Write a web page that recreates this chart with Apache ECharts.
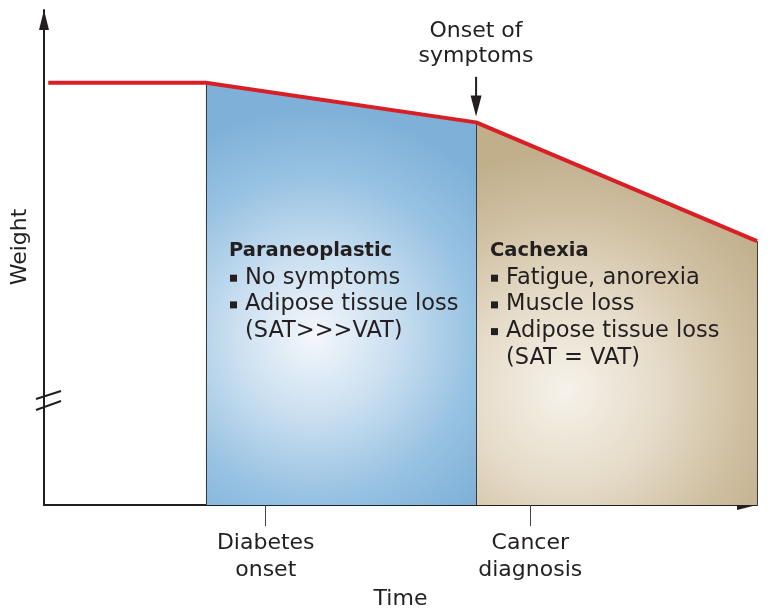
<!DOCTYPE html>
<html>
<head>
<meta charset="utf-8">
<style>
html,body{margin:0;padding:0;background:#fff;}
#chart{width:769px;height:615px;}
</style>
<script src="https://cdn.jsdelivr.net/npm/echarts@6/dist/echarts.min.js"></script>
</head>
<body>
<div id="chart"></div>
<script>
// ---- data ----
const timePoints = [0.6, 22.7, 60.6, 100];
const weightValues = [85.3, 85.3, 77.3, 53.3];
const paraneoplasticIdx = [1, 2];
const cachexiaIdx = [2, 3];
const tickValues = [31.1, 68.2];
const tickLabels = ['Diabetes\nonset', 'Cancer\ndiagnosis'];
const onsetArrow = [86.5, 78.5]; // weight values of arrow start / tip
const paraLines = ['Paraneoplastic', 'No symptoms', 'Adipose tissue loss', '(SAT>>>VAT)'];
const paraBullets = [false, true, true, false];
const cachLines = ['Cachexia', 'Fatigue, anorexia', 'Muscle loss', 'Adipose tissue loss', '(SAT = VAT)'];
const cachBullets = [false, true, true, true, false];

const TXT = '#231f20';
const FONT = '"DejaVu Sans", sans-serif';

const chart = echarts.init(document.getElementById('chart'));

function pts(idx) { return idx.map(i => [timePoints[i], weightValues[i]]); }
const linePts = timePoints.map((t, i) => [t, weightValues[i]]);

function textBlock(lines, bullets, x0, yc0, step) {
  const els = [];
  lines.forEach((s, i) => {
    const y = yc0 + i * step;
    const bold = i === 0;
    const indent = (i === 0) ? 0 : 16;
    if (bullets[i]) {
      els.push({ type: 'rect', shape: { x: x0 + 1, y: y - 3, width: 7, height: 7 }, style: { fill: TXT }, z: 100 });
    }
    els.push({
      type: 'text', x: x0 + indent, y: y, z: 100,
      style: { text: s, fill: TXT, font: (bold ? 'bold 19.5px ' : '22.5px ') + FONT, verticalAlign: 'middle', align: 'left' }
    });
  });
  return els;
}

const staticGraphics = [].concat(
  textBlock(paraLines, paraBullets, 229, 251, 26.7),
  textBlock(cachLines, cachBullets, 490, 251, 26.7),
  [
    { type: 'text', x: 476, y: 31, z: 100, style: { text: 'Onset of', fill: TXT, font: '22px ' + FONT, align: 'center', verticalAlign: 'middle' } },
    { type: 'text', x: 476, y: 56.5, z: 100, style: { text: 'symptoms', fill: TXT, font: '22px ' + FONT, align: 'center', verticalAlign: 'middle' } },
    { type: 'text', x: 20.5, y: 247, rotation: Math.PI / 2, z: 100, style: { text: 'Weight', fill: TXT, font: '22px ' + FONT, align: 'center', verticalAlign: 'middle' } },
    { type: 'line', shape: { x1: 36, y1: 399, x2: 61, y2: 391 }, style: { stroke: TXT, lineWidth: 2 }, z: 100 },
    { type: 'line', shape: { x1: 36, y1: 410, x2: 61, y2: 401 }, style: { stroke: TXT, lineWidth: 2 }, z: 100 }
  ]
);

const edgeLine = (t, w) => [{ coord: [t, 0] }, { coord: [t, w] }];
const TRI = 'path://M5,0 L10,20 L0,20 Z';

const option = {
  animation: false,
  backgroundColor: '#ffffff',
  grid: { left: 44, right: 12, top: 10, bottom: 108, containLabel: false },
  xAxis: {
    type: 'value', min: 0, max: 100,
    axisLine: { show: true, lineStyle: { color: TXT, width: 2 }, symbol: ['none', TRI], symbolSize: [10, 20], symbolOffset: [0, -10] },
    axisTick: { show: true, customValues: tickValues, length: 21, lineStyle: { color: '#444', width: 1 } },
    axisLabel: {
      show: true, customValues: tickValues, margin: 25,
      formatter: v => { const i = tickValues.indexOf(v); return i >= 0 ? tickLabels[i] : ''; },
      color: TXT, fontSize: 22, fontFamily: FONT, lineHeight: 26.5
    },
    splitLine: { show: false },
    name: 'Time', nameLocation: 'middle', nameGap: 77,
    nameTextStyle: { color: TXT, fontSize: 22, fontFamily: FONT }
  },
  yAxis: {
    type: 'value', min: 0, max: 100,
    axisLine: { show: true, lineStyle: { color: TXT, width: 2 }, symbol: ['none', TRI], symbolSize: [11, 20], symbolOffset: [0, -10] },
    axisTick: { show: false }, axisLabel: { show: false }, splitLine: { show: false }
  },
  series: [
    {
      type: 'line', data: pts(paraneoplasticIdx), showSymbol: false, z: 2,
      lineStyle: { width: 0 },
      areaStyle: {
        opacity: 1, origin: 'start',
        color: { type: 'radial', x: 0.4, y: 0.6, r: 0.85, colorStops: [
          { offset: 0, color: '#f4f7fb' }, { offset: 0.35, color: '#cadff0' },
          { offset: 0.7, color: '#97c2e2' }, { offset: 1, color: '#7eb0d8' }] }
      },
      markLine: {
        silent: true, symbol: ['none', 'none'], label: { show: false },
        lineStyle: { color: '#3a3a3a', width: 1, type: 'solid' },
        data: [edgeLine(timePoints[1], weightValues[1]), edgeLine(timePoints[2], weightValues[2])]
      }
    },
    {
      type: 'line', data: pts(cachexiaIdx), showSymbol: false, z: 2,
      lineStyle: { width: 0 },
      areaStyle: {
        opacity: 1, origin: 'start',
        color: { type: 'radial', x: 0.32, y: 0.7, r: 0.85, colorStops: [
          { offset: 0, color: '#f6f2ea' }, { offset: 0.4, color: '#e5dbc8' },
          { offset: 0.75, color: '#cfbfa1' }, { offset: 1, color: '#c1af8c' }] }
      },
      markLine: {
        silent: true, symbol: ['none', 'none'], label: { show: false },
        lineStyle: { color: '#3a3a3a', width: 1, type: 'solid' },
        data: [edgeLine(timePoints[3], weightValues[3])]
      }
    },
    {
      type: 'line', data: linePts, showSymbol: false, z: 5,
      lineStyle: { color: '#d91f26', width: 4, join: 'round' }
    }
  ],
  graphic: staticGraphics
};
chart.setOption(option);

// onset-of-symptoms arrow, positioned from data coordinates
const pStart = chart.convertToPixel({ gridIndex: 0 }, [timePoints[2], onsetArrow[0]]);
const pTip = chart.convertToPixel({ gridIndex: 0 }, [timePoints[2], onsetArrow[1]]);
const headLen = 21, headW = 5.5;
chart.setOption({
  graphic: staticGraphics.concat([
    { type: 'line', shape: { x1: pStart[0], y1: pStart[1], x2: pTip[0], y2: pTip[1] - headLen + 2 }, style: { stroke: TXT, lineWidth: 2 }, z: 100 },
    { type: 'polygon', shape: { points: [[pTip[0], pTip[1]], [pTip[0] - headW, pTip[1] - headLen], [pTip[0] + headW, pTip[1] - headLen]] }, style: { fill: TXT }, z: 100 }
  ])
});
</script>
</body>
</html>
